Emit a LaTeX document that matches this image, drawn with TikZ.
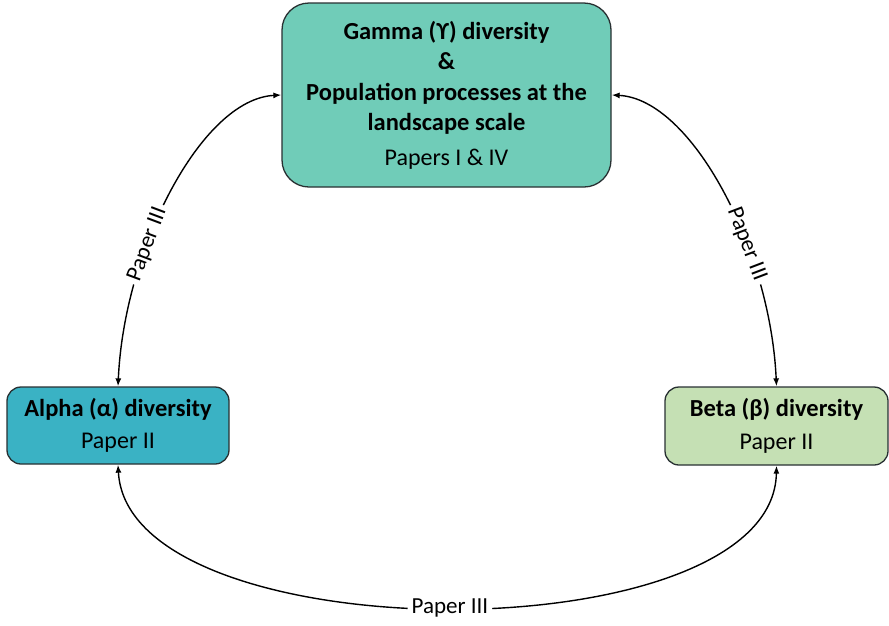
\documentclass[tikz,border=0pt]{standalone}
\usepackage{fontspec}
\setmainfont{Carlito}
\usetikzlibrary{arrows.meta}
\definecolor{gammafill}{RGB}{112,204,184}
\definecolor{alphafill}{RGB}{58,178,196}
\definecolor{betafill}{RGB}{197,224,180}
\definecolor{edgecol}{RGB}{40,48,50}
\tikzset{
  box/.style={draw=edgecol, line width=1.3pt, align=center, inner sep=0pt,
    font=\fontsize{24.5}{30.5}\selectfont, text=black},
  link/.style={line width=1.4pt, {Latex[length=8pt,width=6pt]}-{Latex[length=8pt,width=6pt]}},
  lbl/.style={fill=white, inner sep=4pt, font=\fontsize{23}{28}\selectfont, sloped}
}
\newcommand{\regtext}[1]{{\fontsize{24}{30.5}\selectfont #1}}
\begin{document}
\begin{tikzpicture}[x=1pt,y=-1pt]
\useasboundingbox (0,0) rectangle (889,625);
\node[box, fill=gammafill, rounded corners=27pt, minimum width=329pt, minimum height=184pt] (gamma) at (446.5,95)
  {\textbf{Gamma (ϒ) diversity}\\ \textbf{\&}\\ \textbf{Population processes at the}\\ \textbf{landscape scale}\\[4pt] \regtext{Papers I \& IV}};
\node[box, fill=alphafill, rounded corners=14pt, minimum width=222pt, minimum height=77pt] (alpha) at (118,425.5)
  {\textbf{Alpha (α) diversity}\\[2pt] \regtext{Paper II}};
\node[box, fill=betafill, rounded corners=14pt, minimum width=223pt, minimum height=78pt] (beta) at (776.5,426)
  {\textbf{Beta (β) diversity}\\[2pt] \regtext{Paper II}};
\draw[link] (gamma.west) .. controls +(-80,4) and +(6,-137) .. node[lbl, pos=0.65] {Paper III} (alpha.north);
\draw[link] (gamma.east) .. controls +(80,4) and +(-6,-137) .. node[lbl, pos=0.65] {Paper III} (beta.north);
\draw[link] (alpha.south) .. controls +(10,190) and +(-3,190) .. node[lbl, pos=0.5] {Paper III} (beta.south);
\end{tikzpicture}
\end{document}
